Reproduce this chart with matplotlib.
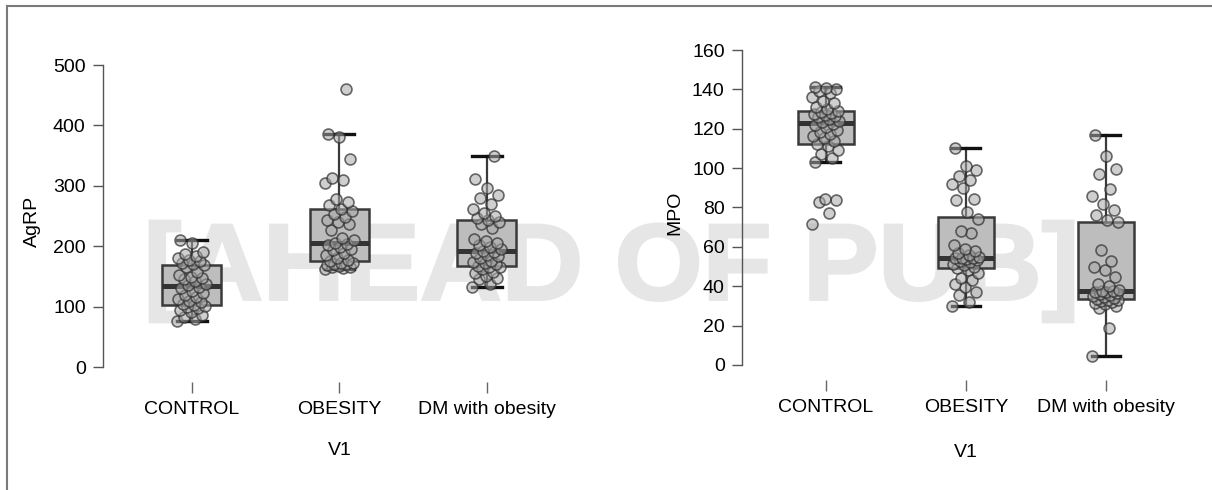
import matplotlib
matplotlib.use("Agg")
import matplotlib.pyplot as plt
from matplotlib.textpath import TextPath
from matplotlib.patches import PathPatch
from matplotlib.font_manager import FontProperties
from matplotlib.lines import Line2D
from matplotlib.transforms import Affine2D
import numpy as np

plt.rcParams['font.family'] = ['Liberation Sans', 'DejaVu Sans']
FS = 14

categories = ["CONTROL", "OBESITY", "DM with obesity"]
xlabel = "V1"

agrp_control = [77, 79, 82, 86, 91, 95, 98, 100, 101, 102, 104, 107, 110, 113, 116, 119, 122, 126, 130, 133,
                135, 138, 142, 145, 147, 149, 152, 158, 165, 169, 171, 173, 175, 177, 180, 184, 187, 190, 205, 210]
agrp_obesity = [163, 164, 165, 166, 167, 169, 170, 171, 172, 173, 175, 178, 181, 185, 189, 193, 196, 199, 202, 204,
                206, 210, 213, 227, 236, 240, 243, 249, 254, 258, 262, 268, 273, 279, 305, 309, 313, 345, 381, 385, 460]
agrp_dm = [133, 138, 145, 148, 150, 155, 158, 162, 165, 166, 168, 170, 172, 174, 176, 180, 183, 185, 188, 190,
           192, 195, 198, 202, 205, 208, 212, 230, 236, 240, 243, 246, 250, 255, 262, 270, 280, 284, 297, 312, 350]

mpo_control = [71.5, 77, 82.8, 83.6, 84.5, 103, 105, 107, 109, 111, 112.5, 114, 115.5, 116.5, 117.5, 118.5, 119.5,
               121, 122, 122.5, 123.5, 124, 125, 126, 126.5, 127, 127.5, 128, 128.5, 129, 130, 131, 133, 134, 136,
               138, 139, 140, 140.5, 141]
mpo_obesity = [30, 32, 35.5, 37, 39.4, 41, 43, 44, 46.5, 48, 49.5, 50, 51, 51.5, 52.5, 53, 53.5, 54, 54.2, 54.4,
               54.6, 55, 56, 57, 58, 59, 61, 67, 68, 74, 77.7, 83.6, 84.5, 90, 92, 94, 96, 99, 101, 110]
mpo_dm = [4.7, 18.6, 28.7, 30, 31, 31.5, 32, 32.5, 33, 33, 33.5, 34, 34.6, 35, 35.5, 36, 36.5, 37, 37.2, 37.4,
          37.6, 38, 40, 41, 44.8, 48, 50, 53, 58.6, 72.5, 73.5, 76, 78.5, 82, 85.6, 89.5, 97, 99.7, 106, 117]

agrp_ticks = [0, 100, 200, 300, 400, 500]
mpo_ticks = [0, 20, 40, 60, 80, 100, 120, 140, 160]

W, H = 1212, 490
fig = plt.figure(figsize=(W / 100, H / 100), dpi=100)

def px_rect(l, r, b, t):
    return [l / W, (H - b) / H, (r - l) / W, (b - t) / H]

def draw_panel(ax, groups, ticks, ylabel, ylim, xlim, ylabel_x, xlabel_xy):
    ax.set_facecolor('none')
    pos = np.arange(len(groups))
    bp = ax.boxplot(groups, positions=pos, widths=0.4, patch_artist=True, showfliers=False,
                    whis=1.5, capwidths=0.2, manage_ticks=False)
    for b in bp['boxes']:
        b.set(facecolor='#bdbdbd', edgecolor='#3a3a3a', linewidth=1.8, zorder=2)
    for w in bp['whiskers']:
        w.set(color='#3a3a3a', linewidth=1.6, zorder=2)
    for c in bp['caps']:
        c.set(color='#111111', linewidth=2.4, zorder=2)
    for m in bp['medians']:
        m.set(color='#333333', linewidth=3.6, zorder=3)
    for i, g in enumerate(groups):
        n = len(g)
        off = ((np.arange(n) * 0.6180339887) % 1.0 - 0.5) * 0.2
        ax.scatter(i + off, g, s=62, facecolor=(0.66, 0.66, 0.66, 0.55),
                   edgecolor=(0.18, 0.18, 0.18, 0.7), linewidth=1.2, zorder=4)
    ax.set_xlim(*xlim)
    ax.set_ylim(*ylim)
    ax.set_yticks(ticks)
    ax.set_xticks(pos)
    ax.set_xticklabels(categories)
    for s in ['top', 'right', 'bottom']:
        ax.spines[s].set_visible(False)
    ax.spines['left'].set_bounds(ticks[0], ticks[-1])
    ax.spines['left'].set_color('#555555')
    ax.spines['left'].set_linewidth(1.0)
    ax.tick_params(axis='y', length=7.5, width=1.0, color='#555555', labelsize=FS, pad=5)
    ax.tick_params(axis='x', length=8, width=1.0, color='#666666', labelsize=FS, pad=6)
    ax.set_ylabel(ylabel, fontsize=FS)
    ax.yaxis.set_label_coords(ylabel_x, 0.5)
    ax.set_xlabel(xlabel, fontsize=FS)
    ax.xaxis.set_label_coords(*xlabel_xy)

ax1 = fig.add_axes(px_rect(103, 560, 382, 60))
draw_panel(ax1, [agrp_control, agrp_obesity, agrp_dm], agrp_ticks, "AgRP",
           (-24.8, 508.3), (-0.603, 2.495), -0.135, (0.5186, -0.185))

ax2 = fig.add_axes(px_rect(742, 1190, 380, 45))
draw_panel(ax2, [mpo_control, mpo_obesity, mpo_dm], mpo_ticks, "MPO",
           (-7.62, 162.54), (-0.6, 2.6), -0.13, (0.5, -0.19))

# watermark
tp = TextPath((0, 0), "[AHEAD OF PUB]", size=1,
              prop=FontProperties(family='Liberation Sans', weight='bold'))
ext = tp.get_extents()
x0f, x1f = 150 / W, 1073 / W
y0f, y1f = (H - 322) / H, (H - 221) / H
tr = (Affine2D().translate(-ext.x0, -ext.y0)
      .scale((x1f - x0f) / ext.width, (y1f - y0f) / ext.height)
      .translate(x0f, y0f) + fig.transFigure)
wm = PathPatch(tp, transform=tr, facecolor='#e6e6e6', edgecolor='#e6e6e6',
               linewidth=2.0, zorder=-1)
fig.add_artist(wm)

# outer frame
fig.add_artist(Line2D([6.5 / W, 6.5 / W], [0, (H - 6.5) / H], transform=fig.transFigure,
                      color='#7a7a7a', linewidth=1.5))
fig.add_artist(Line2D([6.5 / W, 1], [(H - 6.5) / H, (H - 6.5) / H], transform=fig.transFigure,
                      color='#7a7a7a', linewidth=1.5))

fig.savefig("out.png", dpi=100)
